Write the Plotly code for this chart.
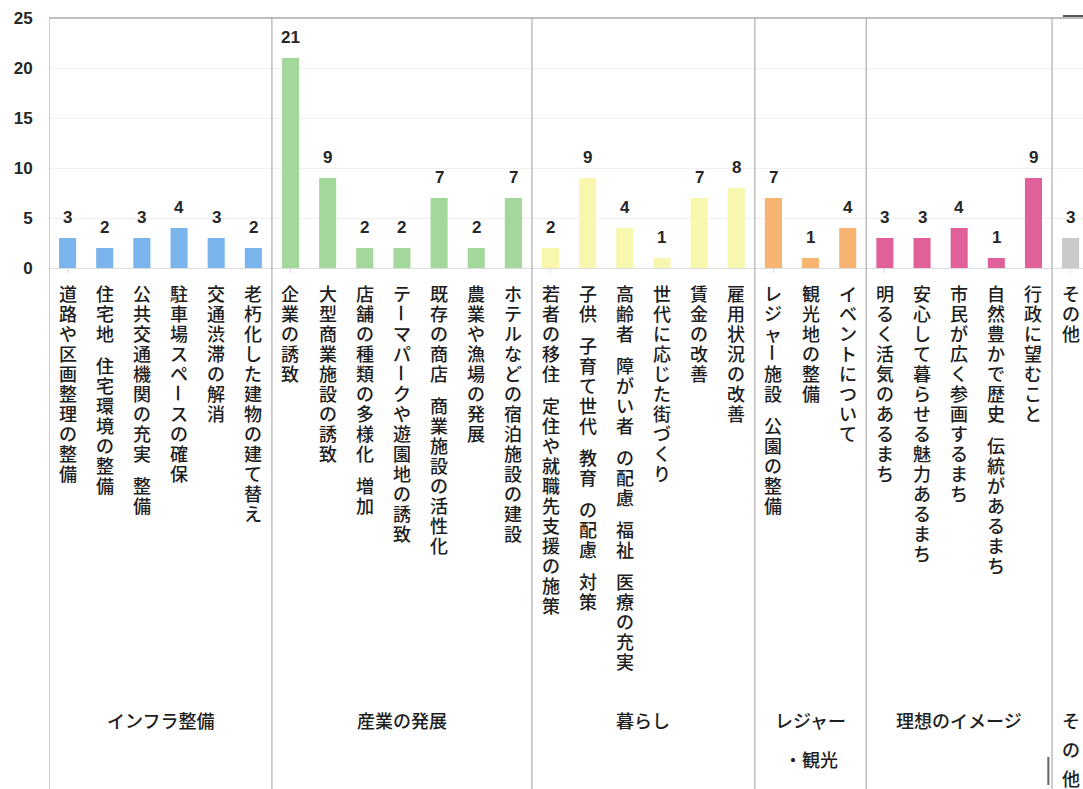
import plotly.graph_objects as go

# ---------------- data ----------------
group_names = ["インフラ整備", "産業の発展", "暮らし", "レジャー・観光", "理想のイメージ", "その他"]

infra_labels = ["道路や区画整理の整備", "住宅地 住宅環境の整備", "公共交通機関の充実 整備",
                "駐車場スペースの確保", "交通渋滞の解消", "老朽化した建物の建て替え"]
infra_values = [3, 2, 3, 4, 3, 2]

industry_labels = ["企業の誘致", "大型商業施設の誘致", "店舗の種類の多様化 増加",
                   "テーマパークや遊園地の誘致", "既存の商店 商業施設の活性化",
                   "農業や漁場の発展", "ホテルなどの宿泊施設の建設"]
industry_values = [21, 9, 2, 2, 7, 2, 7]

life_labels = ["若者の移住 定住や就職先支援の施策", "子供 子育て世代 教育 の配慮 対策",
               "高齢者 障がい者 の配慮 福祉 医療の充実", "世代に応じた街づくり",
               "賃金の改善", "雇用状況の改善"]
life_values = [2, 9, 4, 1, 7, 8]

leisure_labels = ["レジャー施設 公園の整備", "観光地の整備", "イベントについて"]
leisure_values = [7, 1, 4]

image_labels = ["明るく活気のあるまち", "安心して暮らせる魅力あるまち", "市民が広く参画するまち",
                "自然豊かで歴史 伝統があるまち", "行政に望むこと"]
image_values = [3, 3, 4, 1, 9]

other_labels = ["その他"]
other_values = [3]

group_colors = ["#79b5ec", "#a2d99a", "#f9f6ad", "#f6b470", "#e0619a", "#c9c9c9"]

y_ticks = [0, 5, 10, 15, 20, 25]

# ---------------- build ----------------
all_groups = [
    (infra_labels, infra_values),
    (industry_labels, industry_values),
    (life_labels, life_values),
    (leisure_labels, leisure_values),
    (image_labels, image_values),
    (other_labels, other_values),
]

labels, values, colors, bounds = [], [], [], [-0.5]
for (lbls, vals), col in zip(all_groups, group_colors):
    labels += lbls
    values += vals
    colors += [col] * len(vals)
    bounds.append(bounds[-1] + len(vals))

xs = list(range(len(values)))

W, H = 1083, 789
ML, MT = 49, 18
PLOT_H = 250
MB = H - MT - PLOT_H
PX_PER_UNIT = 37.15
x_max = -0.5 + (W - ML) / PX_PER_UNIT

NUM_FONT = dict(family="Liberation Sans, Arial", size=17, color="#262626", weight="bold")
JP_FONT = dict(family="Noto Sans CJK JP", size=18, color="#1e1e1e", weight=500)

fig = go.Figure()
fig.add_trace(go.Bar(x=xs, y=values, marker=dict(color=colors, line=dict(width=0)),
                     width=0.46, hoverinfo="skip", showlegend=False))

annotations = []
# value labels
for x, v in zip(xs, values):
    annotations.append(dict(x=x, y=v, xref="x", yref="y", text=str(v), showarrow=False,
                            yanchor="middle", yshift=21, font=NUM_FONT))

# vertical category labels
PITCH, GAP, START = 20, 12, 25
for x, lbl in zip(xs, labels):
    off = 0
    for ch in lbl:
        if ch == " ":
            off += GAP
            continue
        a = dict(x=x, y=0, xref="x", yref="y", text=ch, showarrow=False,
                 yanchor="middle", xanchor="center", yshift=-(START + off), font=JP_FONT)
        if ch == "ー":
            a["textangle"] = 90
        annotations.append(a)
        off += PITCH

# group labels
GROUP_Y = 452
for gi, name in enumerate(group_names):
    cx = (bounds[gi] + bounds[gi + 1]) / 2
    if name == "レジャー・観光":
        annotations.append(dict(x=cx, y=0, xref="x", yref="y", text="レジャー", showarrow=False,
                                yanchor="middle", yshift=-GROUP_Y, font=JP_FONT))
        annotations.append(dict(x=cx, y=0, xref="x", yref="y", text="・観光", showarrow=False,
                                yanchor="middle", yshift=-(GROUP_Y + 39), font=JP_FONT))
    elif name == "その他":
        for k, ch in enumerate(name):
            annotations.append(dict(x=cx, y=0, xref="x", yref="y", text=ch, showarrow=False,
                                    yanchor="middle", yshift=-(GROUP_Y + 29 * k), font=JP_FONT))
    else:
        annotations.append(dict(x=cx, y=0, xref="x", yref="y", text=name, showarrow=False,
                                yanchor="middle", yshift=-GROUP_Y, font=JP_FONT))

shapes = []
y_bottom = -MB / PLOT_H
for b in bounds[:-1]:
    shapes.append(dict(type="line", xref="x", yref="paper", x0=b, x1=b, y0=y_bottom, y1=1,
                       line=dict(color="#b4b4b4", width=1.3)))
# top border
shapes.append(dict(type="line", xref="paper", yref="paper", x0=0, x1=1, y0=1, y1=1,
                   line=dict(color="#a8a8a8", width=1.5)))
# scan artefacts: dark dash at top right and dark segment near the last divider
shapes.append(dict(type="line", xref="paper", yref="paper", x0=(1063 - ML) / (W - ML), x1=1,
                   y0=1 + 2 / PLOT_H, y1=1 + 2 / PLOT_H, line=dict(color="#555555", width=2)))
shapes.append(dict(type="line", xref="x", yref="paper", x0=bounds[5] - 0.1, x1=bounds[5] - 0.1,
                   y0=-(785 - (MT + PLOT_H)) / PLOT_H, y1=-(757 - (MT + PLOT_H)) / PLOT_H,
                   line=dict(color="#666666", width=2)))

fig.update_layout(
    width=W, height=H,
    margin=dict(l=ML, r=0, t=MT, b=MB, pad=0),
    paper_bgcolor="white", plot_bgcolor="white",
    annotations=annotations,
    shapes=shapes,
    xaxis=dict(range=[-0.5, x_max], showticklabels=False, showgrid=False, zeroline=False,
               showline=True, linecolor="#dddddd", linewidth=1,
               ticks="outside", ticklen=4, tickcolor="#dddddd",
               tickvals=[b + 0.5 for b in bounds[:-1]] + [bounds[-1]], fixedrange=True),
    yaxis=dict(range=[0, 25], tickvals=y_ticks, showgrid=True, gridcolor="#f0f0f0",
               zeroline=False, showline=False,
               ticks="outside", ticklen=12, tickcolor="rgba(0,0,0,0)",
               tickfont=NUM_FONT, fixedrange=True),
)

fig.write_html("out.html", config={"displayModeBar": False},
               post_script="document.body.style.margin='0';document.body.style.overflow='hidden';")
